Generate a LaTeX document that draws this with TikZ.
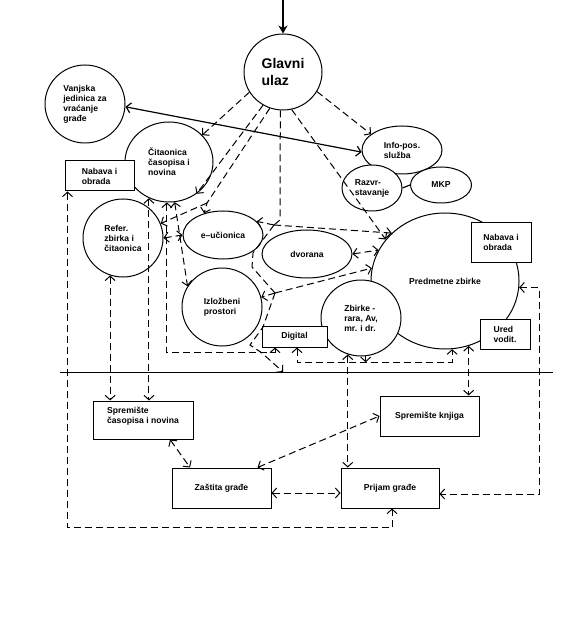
\documentclass[tikz,border=0pt]{standalone}
\usepackage{fontspec}
\setmainfont{Liberation Sans}
\usepackage{tikz}
\usetikzlibrary{shapes.geometric,arrows.meta,calc}
\definecolor{ink}{HTML}{000000}
\newcommand{\roomfont}{\fontsize{8.6pt}{10pt}\selectfont\bfseries}
\newcommand{\hallfont}{\fontsize{14pt}{17pt}\selectfont\bfseries}
\tikzset{
  room/.style={ellipse, draw=ink, fill=white, line width=1pt, inner sep=0pt, align=left, font=\roomfont},
  rbox/.style={rectangle, draw=ink, fill=white, line width=1pt, inner sep=0pt, align=left, font=\roomfont},
  dline/.style={draw=ink, line width=1pt, dash pattern=on 7pt off 4pt},
  sline/.style={draw=ink, line width=1.2pt},
  >={Straight Barb[length=4.5pt,width=10pt]},
}
\begin{document}
\begin{tikzpicture}[x=1pt, y=-1pt]
  \useasboundingbox (0,0) rectangle (575,617);

  \node[room, minimum width=78pt, minimum height=76pt, font=\hallfont] (glavni) at (283,72) {Glavni\\ulaz};
  \node[room, minimum width=80pt, minimum height=78pt] (vanjska) at (85,104) {Vanjska\\jedinica za\\vraćanje\\građe};
  \node[room, minimum width=88pt, minimum height=80pt] (citaonica) at (169,162) {Čitaonica\\časopisa i\\novina};
  \node[rbox, minimum width=69pt, minimum height=30pt] (nabavaL) at (99.5,176) {Nabava i\\obrada};
  \node[room, minimum width=80pt, minimum height=78pt] (refer) at (123,238) {Refer.\\zbirka i\\čitaonica};
  \node[room, minimum width=80pt, minimum height=48pt] (eucionica) at (223,235) {e–učionica};
  \node[room, minimum width=90pt, minimum height=48pt] (dvorana) at (307,254) {dvorana};
  \node[room, minimum width=80pt, minimum height=78pt] (izlozbeni) at (222,307) {Izložbeni\\prostori};

  % info desk group
  \node[room, minimum width=80pt, minimum height=48pt] (info) at (402,150) {Info-pos.\\služba};
  \node[room, minimum width=60pt, minimum height=46pt] (razvr) at (372,188) {Razvr-\\stavanje};
  \node[room, minimum width=61pt, minimum height=36pt] (mkp) at (441,185) {MKP};

  % collections
  \node[room, minimum width=148pt, minimum height=136pt] (predmetne) at (445,281) {Predmetne zbirke};
  \node[room, minimum width=80pt, minimum height=76pt] (zbirke) at (361,318) {Zbirke -\\rara, Av,\\mr. i dr.};
  \node[rbox, minimum width=65pt, minimum height=21pt] (digital) at (294.5,336.5) {Digital};
  \node[rbox, minimum width=60pt, minimum height=39pt] (nabavaR) at (501,242.5) {Nabava i\\obrada};
  \node[rbox, minimum width=50pt, minimum height=30pt] (ured) at (505,334) {Ured\\vodit.};

  % lower floor
  \node[rbox, minimum width=100pt, minimum height=38pt] (spremCas) at (143,420) {Spremište\\časopisa i novina\\\mbox{}};
  \node[rbox, minimum width=99pt, minimum height=40pt] (spremKnj) at (429.5,416) {Spremište knjiga};
  \node[rbox, minimum width=99pt, minimum height=40pt] (zastita) at (221.5,488) {Zaštita građe};
  \node[rbox, minimum width=98pt, minimum height=40pt] (prijam) at (390,488) {Prijam građe};

  \coordinate (entry) at (283,0);
  \coordinate (divL) at (60,372);
  \coordinate (divR) at (553,372);
  \draw[sline, line width=2pt, -{Stealth[length=8pt,width=9pt]}] (entry) -- (glavni.north);
  \draw[sline, <->] (vanjska.356) -- (info.183);
  \draw[sline] (razvr.east) -- (mkp.west);
  \draw[sline, line width=1pt] (divL) -- (divR);

  % from the entrance
  \coordinate (k) at (207,203);
  \draw[dline, ->] (glavni.211) -- (citaonica.39);
  \draw[dline, ->] (glavni.330) -- (info.153);
  \draw[dline, ->] (glavni.239) -- (citaonica.311);
  \draw[dline, ->] (glavni.250) -- (k) -- (eucionica.131);
  \draw[dline, ->] (k) -- (refer.21);
  \draw[dline, ->] (glavni.283) -- (predmetne.145);

  % through the hall
  \coordinate (j0) at (280,220);
  \coordinate (j1) at (274,225);
  \coordinate (j2) at (275,293);
  \coordinate (d1) at (283,372);
  \draw[dline] (glavni.266) -- (j0) -- (j1);
  \draw[dline, ->] (j1) -- (eucionica.22);
  \draw[dline, ->] (j1) -- (predmetne.138);
  \draw[dline] (j1) -- (253,253) -- (252,267) -- (j2);
  \draw[dline, ->] (j2) -- (izlozbeni.14);
  \draw[dline, ->] (j2) -- (predmetne.170);
  \draw[dline, ->] (j2) -- (263,327) -- (250,345) -- (262,353) -- (d1);

  \draw[dline, <->] (dvorana.east) -- (predmetne.155);
  \draw[dline, <->] (refer.east) -- (eucionica.west);
  \draw[dline, <->] (citaonica.278) -- (izlozbeni.149);
  \draw[dline, <->] (citaonica.267) -- ++(0,150) -| ([xshift=-19.5pt]digital.south);
  \draw[dline, <->] ([xshift=2.5pt]digital.south) -- ++(0,15) -| (predmetne.276);
  \draw[dline, ->] (zbirke.277) -- ++(0,6);

  % down to the stores
  \draw[dline, <->] (citaonica.241) -- (citaonica.241 |- spremCas.north);
  \draw[dline, <->] (refer.251) -- (refer.251 |- spremCas.north);
  \draw[dline, <->] ([xshift=3pt]nabavaL.south west) -- ++(0,336) -| ([xshift=2pt]prijam.south);
  \draw[dline, <->] (zbirke.250) -- (zbirke.250 |- prijam.north);
  \draw[dline, <->] (predmetne.290) -- (predmetne.290 |- spremKnj.north);
  \draw[dline, <->] (predmetne.355) -- ++(20,0) |- ([yshift=-6pt]prijam.east);
  \draw[dline, <->] ([xshift=27pt]spremCas.south) -- ([xshift=-31.5pt]zastita.north);
  \draw[dline, <->] ([xshift=36pt]zastita.north) -- (spremKnj.west);
  \draw[dline, <->] ([yshift=-5pt]zastita.east) -- ([yshift=-5pt]prijam.west);
\end{tikzpicture}
\end{document}
